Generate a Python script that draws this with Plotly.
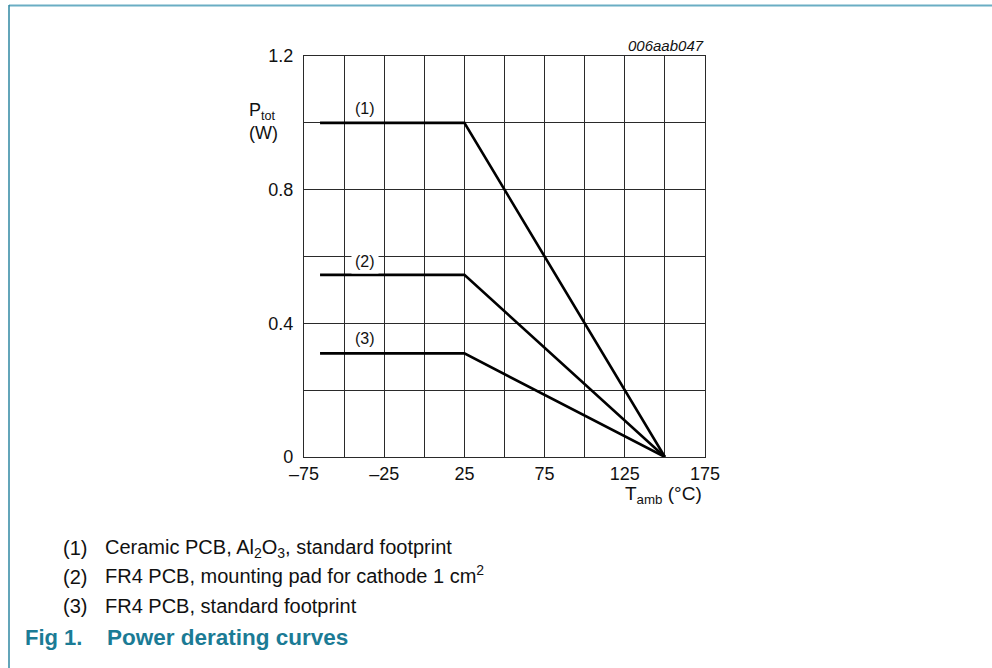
import plotly.graph_objects as go

# ---- data ----
t_amb = [-65, 25, 150]
p_ceramic = [1.0, 1.0, 0.0]
p_fr4_pad = [0.545, 0.545, 0.0]
p_fr4_std = [0.31, 0.31, 0.0]
curve_labels = ["(1)", "(2)", "(3)"]
label_pos_x = [-37, -37, -37]
label_pos_y = [1.044, 0.584, 0.354]

x_tickvals = [-75, -50, -25, 0, 25, 50, 75, 100, 125, 150, 175]
x_ticktext = ["\u201375", "", "\u201325", "", "25", "", "75", "", "125", "", "175"]
y_tickvals = [0, 0.2, 0.4, 0.6, 0.8, 1.0, 1.2]
y_ticktext = ["0", "", "0.4", "", "0.8", "", "1.2"]

notes_num = ["(1)", "(2)", "(3)"]
notes_text = [
    "Ceramic PCB, Al<sub>2</sub>O<sub>3</sub>, standard footprint",
    "FR4 PCB, mounting pad for cathode 1 cm<sup>2</sup>",
    "FR4 PCB, standard footprint",
]

# ---- layout geometry (pixels) ----
W_FIG, H_FIG = 992, 668
L, R, T, B = 304, 705, 56, 457
PW, PH = R - L, B - T


def px(x):
    return (x - L) / PW


def py(y):
    return (B - y) / PH


FONT = "Arial, Liberation Sans, sans-serif"
TEAL = "#1b7b95"
INK = "#111"

fig = go.Figure()
for ys in (p_ceramic, p_fr4_pad, p_fr4_std):
    fig.add_trace(go.Scatter(x=t_amb, y=ys, mode="lines",
                             line=dict(color="black", width=2.6),
                             showlegend=False, hoverinfo="skip"))

annotations = []
for lbl, lx, ly in zip(curve_labels, label_pos_x, label_pos_y):
    annotations.append(dict(x=lx, y=ly, xref="x", yref="y", text=lbl,
                            showarrow=False, font=dict(size=16, color=INK),
                            bgcolor="white", borderpad=3))

annotations += [
    dict(x=px(706), y=py(45), xref="paper", yref="paper", text="<i>006aab047</i>",
         showarrow=False, xanchor="right", yanchor="middle",
         font=dict(size=15, color=INK)),
    dict(x=px(247), y=py(122), xref="paper", yref="paper",
         text="P<sub>tot</sub><br>(W)", showarrow=False, xanchor="left",
         yanchor="middle", align="left", font=dict(size=18, color=INK)),
    dict(x=px(704), y=py(495), xref="paper", yref="paper",
         text="T<sub>amb</sub> (\u00b0C)", showarrow=False, xanchor="right",
         yanchor="middle", font=dict(size=19, color=INK)),
]

num_rows = [548, 577, 606]
text_rows = [548, 574, 606]
for yn, yt, n, t in zip(num_rows, text_rows, notes_num, notes_text):
    annotations.append(dict(x=px(61), y=py(yn), xref="paper", yref="paper", text=n,
                            showarrow=False, xanchor="left", yanchor="middle",
                            font=dict(size=20, color=INK)))
    annotations.append(dict(x=px(103), y=py(yt), xref="paper", yref="paper", text=t,
                            showarrow=False, xanchor="left", yanchor="middle",
                            font=dict(size=20, color=INK)))

annotations.append(dict(x=px(23), y=py(637), xref="paper", yref="paper",
                        text="<b>Fig 1.</b>", showarrow=False, xanchor="left",
                        yanchor="middle", font=dict(size=22, color=TEAL)))
annotations.append(dict(x=px(105), y=py(637), xref="paper", yref="paper",
                        text="<b>Power derating curves</b>", showarrow=False,
                        xanchor="left", yanchor="middle",
                        font=dict(size=22.5, color=TEAL)))

shapes = [
    dict(type="line", xref="paper", yref="paper", x0=px(9), x1=px(992),
         y0=py(5.5), y1=py(5.5), line=dict(color="#6aaec4", width=2)),
    dict(type="line", xref="paper", yref="paper", x0=px(9), x1=px(9),
         y0=py(5), y1=py(668), line=dict(color="#2f87a2", width=1.5)),
]

fig.update_layout(
    width=W_FIG, height=H_FIG,
    margin=dict(l=L, r=W_FIG - R, t=T, b=H_FIG - B),
    paper_bgcolor="white", plot_bgcolor="white",
    font=dict(family=FONT, size=19, color=INK),
    annotations=annotations, shapes=shapes,
    xaxis=dict(range=[-75, 175], tickvals=x_tickvals, ticktext=x_ticktext,
               showgrid=True, gridcolor="#2a2a2a", gridwidth=1,
               showline=True, linecolor="#2a2a2a", linewidth=1.2, mirror=True,
               zeroline=False, ticks="", ticklabelstandoff=0,
               tickfont=dict(size=18, color=INK)),
    yaxis=dict(range=[0, 1.2], tickvals=y_tickvals, ticktext=y_ticktext,
               showgrid=True, gridcolor="#2a2a2a", gridwidth=1,
               showline=True, linecolor="#2a2a2a", linewidth=1.2, mirror=True,
               zeroline=False, ticks="", ticklabelstandoff=6,
               tickfont=dict(size=18, color=INK)),
)

fig.write_html("out.html", config={"displayModeBar": False},
               post_script="document.body.style.margin='0px';document.body.style.overflow='hidden';")
